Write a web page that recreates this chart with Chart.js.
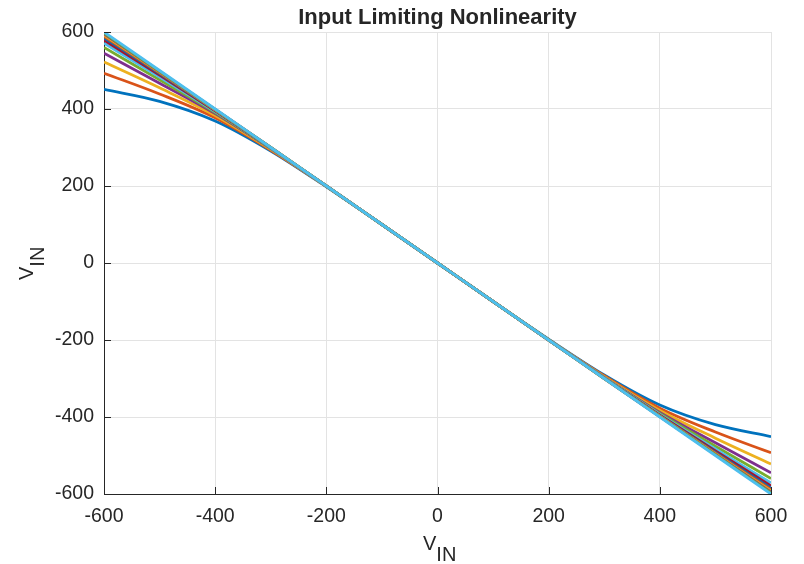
<!DOCTYPE html>
<html>
<head>
<meta charset="utf-8">
<script src="https://cdn.jsdelivr.net/npm/chart.js@4/dist/chart.umd.min.js"></script>
<style>
  html, body { margin: 0; padding: 0; background: #fff; }
  #wrap { width: 804px; height: 564px; }
</style>
</head>
<body>
<div id="wrap"><canvas id="chart" width="804" height="564"></canvas></div>
<script>
// 데이터
const xValues = [-600, -500, -400, -300, -200, -100, 0, 100, 200, 300, 400, 500, 600];
const xTicks = [-600, -400, -200, 0, 200, 400, 600];
const yTicks = [-600, -400, -200, 0, 200, 400, 600];

const series1  = [451, 420, 369, 291, 198, 100, 0, -100, -198, -291, -369, -420, -451];
const series2  = [493, 439, 377, 293, 199, 100, 0, -100, -199, -293, -377, -439, -493];
const series3  = [522, 455, 383, 295, 199, 100, 0, -100, -199, -295, -383, -455, -522];
const series4  = [545, 467, 388, 297, 200, 100, 0, -100, -200, -297, -388, -467, -545];
const series5  = [560, 476, 391, 298, 200, 100, 0, -100, -200, -298, -391, -476, -560];
const series6  = [571, 483, 393, 298, 200, 100, 0, -100, -200, -298, -393, -483, -571];
const series7  = [579, 488, 395, 299, 200, 100, 0, -100, -200, -299, -395, -488, -579];
const series8  = [585, 492, 397, 299, 200, 100, 0, -100, -200, -299, -397, -492, -585];
const series9  = [589, 494, 398, 300, 200, 100, 0, -100, -200, -300, -398, -494, -589];
const series10 = [592, 496, 398, 300, 200, 100, 0, -100, -200, -300, -398, -496, -592];
const series11 = [595, 497, 399, 300, 200, 100, 0, -100, -200, -300, -399, -497, -595];
const series12 = [597, 498, 399, 300, 200, 100, 0, -100, -200, -300, -399, -498, -597];
const series13 = [600, 500, 400, 300, 200, 100, 0, -100, -200, -300, -400, -500, -600];

const allSeries = [series1, series2, series3, series4, series5, series6, series7,
                   series8, series9, series10, series11, series12, series13];

// MATLAB 기본 색 순서
const lineColors = ['#0072BD', '#D95319', '#EDB120', '#7E2F8E', '#77AC30', '#4DBEEE', '#A2142F'];

const titleText = 'Input Limiting Nonlinearity';
const axisMain = 'V';
const axisSub = 'IN';

const FONT = "'Liberation Sans', Helvetica, Arial, sans-serif";
const TEXT_COLOR = '#262626';
const GRID_COLOR = '#e3e3e3';

const datasets = allSeries.map((s, i) => ({
    data: s.map((y, j) => ({ x: xValues[j], y: y })),
    borderColor: lineColors[i % lineColors.length],
    borderWidth: 2.8,
    pointRadius: 0,
    cubicInterpolationMode: 'monotone',
    fill: false,
    order: allSeries.length - i // 마지막 선이 맨 위에 그려지도록
}));

// 제목, 축 제목, 안쪽 눈금 그리기
const decorPlugin = {
    id: 'decor',
    afterDatasetsDraw(chart) {
        const { ctx, chartArea, scales } = chart;
        ctx.save();

        // 안쪽 눈금
        ctx.strokeStyle = TEXT_COLOR;
        ctx.lineWidth = 1;
        ctx.beginPath();
        xTicks.forEach(v => {
            const px = Math.round(scales.x.getPixelForValue(v)) + 0.5;
            ctx.moveTo(px, chartArea.bottom);
            ctx.lineTo(px, chartArea.bottom - 7);
        });
        yTicks.forEach(v => {
            const py = Math.round(scales.y.getPixelForValue(v)) + 0.5;
            ctx.moveTo(chartArea.left, py);
            ctx.lineTo(chartArea.left + 7, py);
        });
        ctx.stroke();

        ctx.fillStyle = TEXT_COLOR;
        ctx.textBaseline = 'alphabetic';

        // 제목
        ctx.font = 'bold 22px ' + FONT;
        ctx.textAlign = 'center';
        ctx.fillText(titleText, (chartArea.left + chartArea.right) / 2, 24);

        // x축 제목
        ctx.textAlign = 'left';
        ctx.font = '20px ' + FONT;
        const wV = ctx.measureText(axisMain).width;
        ctx.fillText(axisMain, 423, 550);
        ctx.fillText(axisSub, 423 + wV, 561);

        // y축 제목 (회전)
        ctx.translate(33, 263);
        ctx.rotate(-Math.PI / 2);
        ctx.fillText(axisMain, -17, 0);
        ctx.fillText(axisSub, -17 + wV, 11);

        ctx.restore();
    }
};

new Chart(document.getElementById('chart').getContext('2d'), {
    type: 'line',
    data: { datasets },
    options: {
        responsive: false,
        animation: false,
        layout: { padding: { top: 32, right: 33, left: 0, bottom: 0 } },
        plugins: {
            legend: { display: false },
            title: { display: false },
            tooltip: { enabled: false }
        },
        scales: {
            x: {
                type: 'linear',
                min: -600,
                max: 600,
                afterFit: scale => { scale.height = 70; },
                afterBuildTicks: scale => { scale.ticks = xTicks.map(v => ({ value: v })); },
                grid: { color: GRID_COLOR, drawTicks: false },
                border: { display: true, color: TEXT_COLOR, width: 1 },
                ticks: {
                    padding: 11,
                    maxRotation: 0,
                    color: TEXT_COLOR,
                    font: { family: FONT, size: 19.5 }
                }
            },
            y: {
                type: 'linear',
                min: -600,
                max: 600,
                afterFit: scale => { scale.width = 104; },
                afterBuildTicks: scale => { scale.ticks = yTicks.map(v => ({ value: v })); },
                grid: { color: GRID_COLOR, drawTicks: false },
                border: { display: true, color: TEXT_COLOR, width: 1 },
                ticks: {
                    padding: 10,
                    color: TEXT_COLOR,
                    font: { family: FONT, size: 19.5 }
                }
            }
        }
    },
    plugins: [decorPlugin]
});
</script>
</body>
</html>
